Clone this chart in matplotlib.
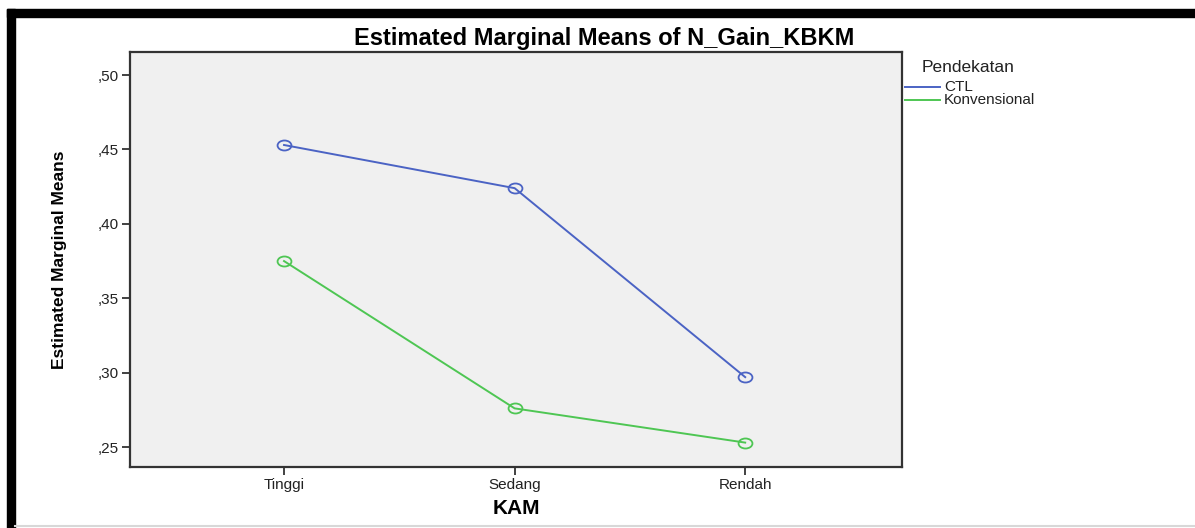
"""
Estimated Marginal Means of N_Gain_KBKM -- SPSS-style profile plot (KAM x Pendekatan).
"""

import matplotlib

matplotlib.use("Agg")
import matplotlib.pyplot as plt
from matplotlib.lines import Line2D
from matplotlib.patches import Rectangle
from matplotlib.path import Path
from matplotlib.transforms import Affine2D

plt.rcParams["font.family"] = ["Liberation Sans", "DejaVu Sans"]

# data
KAM = ["Tinggi", "Sedang", "Rendah"]
CTL = [0.453, 0.424, 0.297]
KONVENSIONAL = [0.375, 0.276, 0.253]
Y_TICKS = [0.25, 0.30, 0.35, 0.40, 0.45, 0.50]
Y_TICK_LABELS = [",25", ",30", ",35", ",40", ",45", ",50"]

SERIES = [
    ("CTL", CTL, "#4b63c4"),
    ("Konvensional", KONVENSIONAL, "#4ec653"),
]

W, H = 1195, 528
TEXT = "#222222"

# SPSS draws slightly flattened open circles
ELLIPSE = Path.unit_circle().transformed(Affine2D().scale(1.0, 0.72))


def fx(px):
    return px / W


def fy(py):
    return 1 - py / H


fig = plt.figure(figsize=(W / 100, H / 100), dpi=100)
fig.patch.set_facecolor("white")

# black frame remnants from the screenshot (top + left) and the grey baseline
fig.add_artist(Rectangle((fx(7), fy(17)), 1, fy(9) - fy(17),
                         transform=fig.transFigure, color="black", zorder=-1))
fig.add_artist(Rectangle((fx(7), 0), fx(8), fy(9),
                         transform=fig.transFigure, color="black", zorder=-1))
fig.add_artist(Line2D([fx(15), 1], [fy(526), fy(526)], color="#d8d8d8", lw=1.5,
                      transform=fig.transFigure, zorder=-1))

ax = fig.add_axes([fx(130), fy(467), fx(902) - fx(130), fy(52) - fy(467)])
ax.set_zorder(2)
ax.set_facecolor("#f0f0f0")

x = list(range(len(KAM)))
for name, vals, color in SERIES:
    ax.plot(x, vals, color=color, lw=1.4, marker=ELLIPSE, markersize=10,
            markerfacecolor="none", markeredgecolor=color, markeredgewidth=1.3)

ax.set_xlim(-0.668, 2.68)
ax.set_ylim(0.2366, 0.5155)
ax.set_xticks(x)
ax.set_xticklabels(KAM)
ax.set_yticks(Y_TICKS)
ax.set_yticklabels(Y_TICK_LABELS)

for s in ax.spines.values():
    s.set_color("#333333")
    s.set_linewidth(1.6)
ax.tick_params(axis="both", direction="out", length=6, width=1.3, color="#333333",
               labelsize=11, labelcolor=TEXT, pad=2)

ax.set_xlabel("KAM", fontsize=15, fontweight="bold", color="black", labelpad=5)
ax.set_ylabel("Estimated Marginal Means", fontsize=12.5, fontweight="bold",
              color="black", labelpad=22)

fig.text(fx(604), fy(38), "Estimated Marginal Means of N_Gain_KBKM",
         ha="center", va="center", fontsize=17, fontweight="bold", color="black")

# legend drawn by hand, SPSS style
fig.text(fx(922), fy(67), "Pendekatan", ha="left", va="center",
         fontsize=12.5, color=TEXT)
for i, (name, vals, color) in enumerate(SERIES):
    yy = fy(87 + 13 * i)
    fig.add_artist(Line2D([fx(905), fx(940)], [yy, yy], color=color, lw=1.4,
                          transform=fig.transFigure))
    fig.text(fx(944), yy, name, ha="left", va="center", fontsize=11, color=TEXT)

fig.savefig("out.png", dpi=100)
